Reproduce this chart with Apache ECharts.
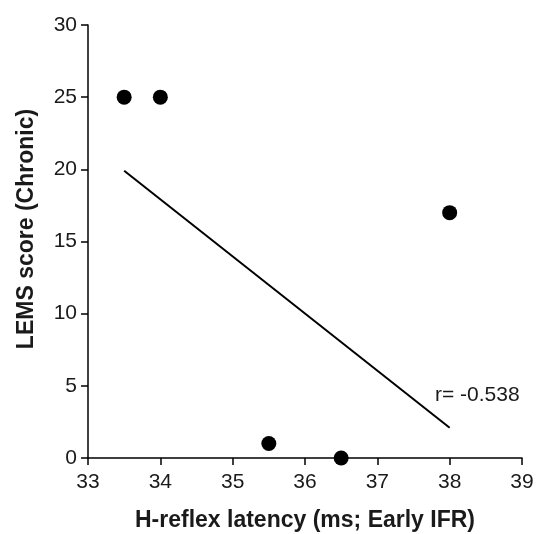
<!DOCTYPE html>
<html>
<head>
<meta charset="utf-8">
<script src="https://cdn.jsdelivr.net/npm/echarts@6/dist/echarts.min.js"></script>
<style>
  html, body { margin: 0; padding: 0; background: #fff; }
  #chart { width: 539px; height: 534px; }
</style>
</head>
<body>
<div id="chart"></div>
<script>
  // data
  var latency = [33.5, 34, 35.5, 36.5, 38]
  var lems = [25, 25, 1, 0, 17]
  var fitX = [33.5, 38]
  var fitY = [19.9, 2.1]
  var xTicks = [33, 34, 35, 36, 37, 38, 39]
  var yTicks = [0, 5, 10, 15, 20, 25, 30]
  var rText = 'r= -0.538'

  var points = latency.map(function (x, i) { return [x, lems[i]] })
  var fit = fitX.map(function (x, i) { return [x, fitY[i]] })

  var font = 'Arial, "Liberation Sans", sans-serif'
  var axisStyle = {
    axisLine: { show: true, onZero: false, lineStyle: { color: '#000', width: 1.5 } },
    axisTick: { show: true, length: 7, lineStyle: { color: '#000', width: 1.5 } },
    splitLine: { show: false }
  }

  var myChart = echarts.init(document.getElementById('chart'))
  myChart.setOption({
    animation: false,
    grid: { left: 88, right: 17, top: 25, bottom: 76, outerBoundsMode: 'none', containLabel: false },
    xAxis: Object.assign({
      type: 'value',
      min: xTicks[0],
      max: xTicks[xTicks.length - 1],
      interval: 1,
      name: 'H-reflex latency (ms; Early IFR)',
      nameLocation: 'middle',
      nameGap: 51,
      nameTextStyle: { fontFamily: font, fontSize: 23, fontWeight: 'bold', color: '#1a1a1a' },
      axisLabel: { margin: 14, fontFamily: font, fontSize: 21, color: '#1a1a1a' }
    }, axisStyle),
    yAxis: Object.assign({
      type: 'value',
      min: yTicks[0],
      max: yTicks[yTicks.length - 1],
      interval: 5,
      name: 'LEMS score (Chronic)',
      nameLocation: 'middle',
      nameGap: 50,
      nameTextStyle: { fontFamily: font, fontSize: 23, fontWeight: 'bold', color: '#1a1a1a', padding: [0, 0, 0, 25] },
      axisLabel: { margin: 11, fontFamily: font, fontSize: 21, color: '#1a1a1a' }
    }, axisStyle),
    graphic: [{
      type: 'text',
      left: 435,
      top: 385,
      style: { text: rText, fontFamily: font, fontSize: 21, fill: '#1a1a1a' }
    }],
    series: [
      {
        type: 'line',
        data: fit,
        symbol: 'none',
        lineStyle: { color: '#000', width: 2 },
        silent: true
      },
      {
        type: 'scatter',
        data: points,
        symbolSize: 15,
        itemStyle: { color: '#000', opacity: 1 },
        clip: false
      }
    ]
  })
</script>
</body>
</html>
